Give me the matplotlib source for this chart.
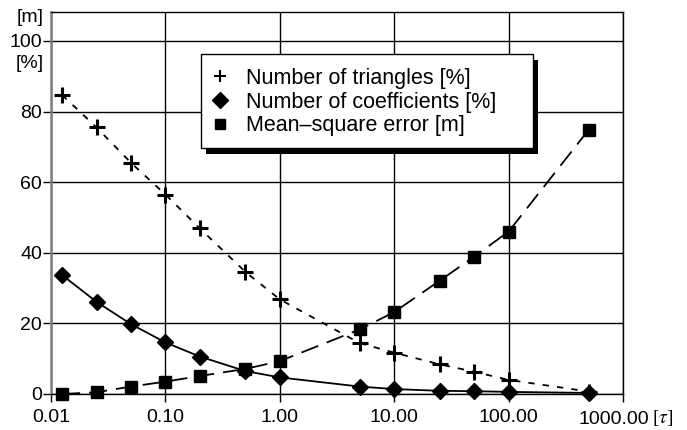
import matplotlib
matplotlib.use("Agg")
import matplotlib.pyplot as plt
from matplotlib.ticker import FixedLocator, NullLocator
from matplotlib.lines import Line2D
from matplotlib.patches import Rectangle
from matplotlib.transforms import IdentityTransform

tau = [0.0125, 0.025, 0.05, 0.1, 0.2, 0.5, 1, 5, 10, 25, 50, 100, 500]
triangles = [84.7, 75.5, 65.5, 56.5, 46.9, 34.6, 26.8, 14.4, 11.7, 8.4, 6.3, 4.0, 0.7]
coefficients = [33.7, 26.1, 19.8, 14.6, 10.6, 6.5, 4.7, 2.1, 1.4, 0.9, 0.8, 0.6, 0.3]
mse = [0.0, 0.5, 2.1, 3.5, 5.1, 7.1, 9.3, 18.3, 23.2, 32.1, 38.9, 46.0, 74.8]

xticks = [0.01, 0.1, 1, 10, 100, 1000]
xticklabels = ["0.01", "0.10", "1.00", "10.00", "100.00", ""]
last_xlabel = "1000.00"
yticks = [0, 20, 40, 60, 80, 100]
labels = ["Number of triangles [%]", "Number of coefficients [%]", "Mean\u2013square error [m]"]

plt.rcParams['font.family'] = ['Liberation Sans', 'DejaVu Sans']
FS = 14

W, H = 687, 430
fig = plt.figure(figsize=(W/100, H/100), dpi=100)
ax = fig.add_axes([51/W, 1 - 394/H, (623-51)/W, (394-12)/H])

ax.set_xscale('log')
ax.set_xlim(0.01, 1000)
ax.set_ylim(0, 108.2)

ax.xaxis.set_major_locator(FixedLocator(xticks))
ax.xaxis.set_minor_locator(NullLocator())
ax.set_xticklabels(xticklabels)
ax.set_yticks(yticks)
ax.grid(True, color='black', linewidth=1.0)
ax.set_axisbelow(True)

ax.tick_params(axis='both', labelsize=FS, direction='out', length=5.5, width=1, color='black')
ax.tick_params(axis='x', pad=5)
ax.tick_params(axis='y', pad=1)
for s in ['top', 'right', 'bottom']:
    ax.spines[s].set_linewidth(1.0)
    ax.spines[s].set_color('black')
ax.spines['left'].set_linewidth(1.8)
ax.spines['left'].set_color('#808080')

ax.plot(tau, triangles, color='black', linestyle=(0, (3.5, 4.5)), linewidth=1.3,
        marker='+', markersize=12, markeredgewidth=2.2, clip_on=False, zorder=3)
ax.plot(tau, coefficients, color='black', linestyle='-', linewidth=1.3,
        marker='D', markersize=8.5, clip_on=False, zorder=4)
ax.plot(tau, mse, color='black', linestyle=(0, (10, 5)), linewidth=1.3,
        marker='s', markersize=8, clip_on=False, zorder=5)

# axis unit labels
fig.text(44/W, 1 - 17/H, "[m]", ha='right', va='center', fontsize=FS)
fig.text(44/W, 1 - 63/H, "[%]", ha='right', va='center', fontsize=FS)
fig.text(649/W, 1 - 423.5/H, last_xlabel, ha='right', va='baseline', fontsize=FS)
fig.text(652/W, 1 - 423.5/H, r"[$\tau$]", ha='left', va='baseline', fontsize=FS,
         family=['Liberation Serif', 'DejaVu Serif'], math_fontfamily='stix')

# legend box with hard shadow (pixel coordinates of the box)
bx0, by0, bx1, by1 = 201, 54, 533, 148
ax.add_patch(Rectangle((bx0 + 4.5, H - by1 - 5.5), bx1 - bx0, by1 - by0,
                       transform=IdentityTransform(), facecolor='black', edgecolor='none',
                       zorder=8, clip_on=False))
ax.add_patch(Rectangle((bx0, H - by1), bx1 - bx0, by1 - by0,
                       transform=IdentityTransform(), facecolor='white', edgecolor='black',
                       linewidth=1.0, zorder=9, clip_on=False))

leg_handles = [
    Line2D([], [], color='black', linestyle='none', marker='+', markersize=9, markeredgewidth=1.5),
    Line2D([], [], color='black', linestyle='none', marker='D', markersize=8),
    Line2D([], [], color='black', linestyle='none', marker='s', markersize=7),
]
leg = ax.legend(leg_handles, labels, loc='upper left',
                bbox_to_anchor=((214 - 51)/572, (394 - 68)/382),
                frameon=False, fontsize=15.5, handlelength=0.6, handletextpad=0.9,
                borderpad=0, labelspacing=0.12, borderaxespad=0)
leg.set_zorder(10)

fig.savefig("out.png", dpi=100)
